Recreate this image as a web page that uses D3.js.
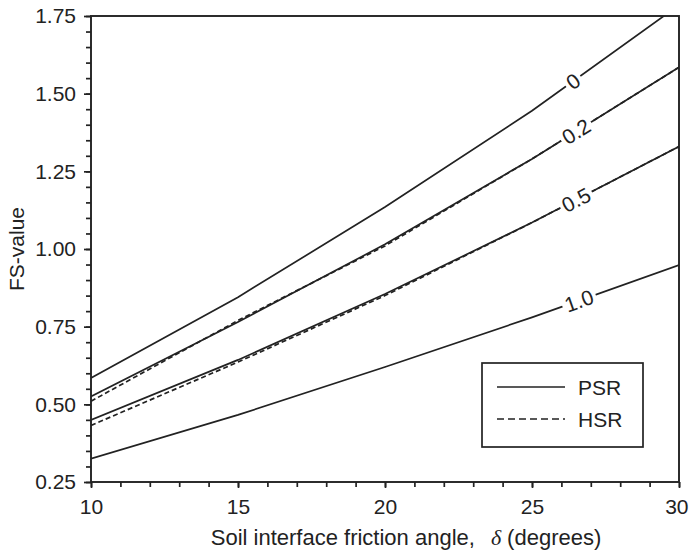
<!DOCTYPE html>
<html>
<head>
<meta charset="utf-8">
<script src="https://cdn.jsdelivr.net/npm/d3@7/dist/d3.min.js"></script>
<style>
  html, body { margin: 0; padding: 0; background: #fff; }
  svg { display: block; }
  text { font-family: "Liberation Sans", Arial, sans-serif; fill: #222; }
</style>
</head>
<body>
<svg id="chart" width="689" height="555"></svg>
<script>
// Friction angle (degrees) at which FS was evaluated
const angles = [10, 15, 20, 25, 30];

// PSR curves, one per parameter value
const psr0   = [0.585, 0.845, 1.135, 1.445, 1.785];
const psr02  = [0.525, 0.765, 1.015, 1.290, 1.585];
const psr05  = [0.450, 0.643, 0.855, 1.085, 1.330];
const psr10  = [0.325, 0.466, 0.620, 0.780, 0.948];

// HSR curves (dashed)
const hsr02  = [0.510, 0.770, 1.010, 1.290, 1.585];
const hsr05  = [0.432, 0.636, 0.850, 1.085, 1.330];

// In-line curve labels and the friction angle where each sits
const curveLabels = ["0", "0.2", "0.5", "1.0"];
const labelAngles = [26.4, 26.5, 26.5, 26.6];

const yTicks = [0.25, 0.50, 0.75, 1.00, 1.25, 1.50, 1.75];
const xTicks = [10, 15, 20, 25, 30];

const legendLabels = ["PSR", "HSR"];

const svg = d3.select("#chart");
const m = { left: 91, right: 679, top: 16, bottom: 482 };

const x = d3.scaleLinear().domain([10, 30]).range([m.left, m.right]);
const y = d3.scaleLinear().domain([0.25, 1.75]).range([m.bottom, m.top]);

const ink = "#222";
const sans = '"Liberation Sans", Arial, sans-serif';

svg.append("clipPath").attr("id", "plot-clip")
  .append("rect")
  .attr("x", m.left).attr("y", m.top)
  .attr("width", m.right - m.left).attr("height", m.bottom - m.top);

// Minor ticks
const minorY = d3.range(0.25, 1.7501, 0.05).map(v => +v.toFixed(2));
const minorX = d3.range(10, 30.01, 1);

const yMinor = svg.append("g").attr("transform", `translate(${m.left},0)`)
  .call(d3.axisLeft(y).tickValues(minorY).tickSize(5).tickFormat(""));
const xMinor = svg.append("g").attr("transform", `translate(0,${m.bottom})`)
  .call(d3.axisBottom(x).tickValues(minorX).tickSize(5).tickFormat(""));

// Major ticks with labels
const yAxis = svg.append("g").attr("transform", `translate(${m.left},0)`)
  .call(d3.axisLeft(y).tickValues(yTicks).tickSize(7).tickPadding(8)
    .tickFormat(d3.format(".2f")));
const xAxis = svg.append("g").attr("transform", `translate(0,${m.bottom})`)
  .call(d3.axisBottom(x).tickValues(xTicks).tickSize(6).tickPadding(11)
    .tickFormat(d3.format("d")));

[yMinor, xMinor, yAxis, xAxis].forEach(g => {
  g.select(".domain").remove();
  g.selectAll(".tick line").attr("stroke", ink).attr("stroke-width", 1.7);
});
[yAxis, xAxis].forEach(g => {
  g.selectAll(".tick text")
    .style("font-family", sans)
    .style("font-size", "21px").attr("fill", ink);
});
// keep the last x label inside the canvas edge
xAxis.selectAll(".tick text")
  .filter(d => d === 30)
  .attr("text-anchor", "end").attr("x", 688 - m.right);

// Plot frame
svg.append("rect")
  .attr("x", m.left).attr("y", m.top)
  .attr("width", m.right - m.left).attr("height", m.bottom - m.top)
  .attr("fill", "none").attr("stroke", ink).attr("stroke-width", 1.9);

// Curves
const line = d3.line().x((d, i) => x(angles[i])).y(d => y(d));
const plot = svg.append("g").attr("clip-path", "url(#plot-clip)");

const psrSeries = [psr0, psr02, psr05, psr10];
const hsrSeries = [hsr02, hsr05];

plot.selectAll("path.hsr").data(hsrSeries).join("path")
  .attr("class", "hsr")
  .attr("d", line)
  .attr("fill", "none").attr("stroke", ink).attr("stroke-width", 1.7)
  .attr("stroke-dasharray", "5,3");

plot.selectAll("path.psr").data(psrSeries).join("path")
  .attr("class", "psr")
  .attr("d", line)
  .attr("fill", "none").attr("stroke", ink).attr("stroke-width", 1.7);

// Labels sitting on the curves, rotated with the local slope
function valueAt(series, a) {
  for (let i = 0; i < angles.length - 1; i++) {
    if (a >= angles[i] && a <= angles[i + 1]) {
      const t = (a - angles[i]) / (angles[i + 1] - angles[i]);
      return { v: series[i] + t * (series[i + 1] - series[i]), i };
    }
  }
  return { v: series[series.length - 1], i: angles.length - 2 };
}

curveLabels.forEach((lab, k) => {
  const s = psrSeries[k];
  const a = labelAngles[k];
  const { v, i } = valueAt(s, a);
  const px = x(a), py = y(v);
  const dx = x(angles[i + 1]) - x(angles[i]);
  const dy = y(s[i + 1]) - y(s[i]);
  const rot = Math.atan2(dy, dx) * 180 / Math.PI;
  const g = svg.append("g").attr("transform", `translate(${px},${py}) rotate(${rot})`);
  const t = g.append("text")
    .attr("text-anchor", "middle").attr("dy", "0.36em")
    .style("font-size", "21px").text(lab);
  const w = t.node().getComputedTextLength();
  g.insert("rect", "text")
    .attr("x", -w / 2 - 3).attr("y", -9).attr("width", w + 6).attr("height", 18)
    .attr("fill", "#fff");
});

// Legend
const lg = svg.append("g");
lg.append("rect")
  .attr("x", 482).attr("y", 363).attr("width", 161).attr("height", 84)
  .attr("fill", "#fff").attr("stroke", ink).attr("stroke-width", 1.7);
legendLabels.forEach((lab, i) => {
  const yy = 387 + i * 32;
  lg.append("line")
    .attr("x1", 497).attr("x2", 565).attr("y1", yy).attr("y2", yy)
    .attr("stroke", ink).attr("stroke-width", 1.7)
    .attr("stroke-dasharray", i === 1 ? "7,4" : null);
  lg.append("text")
    .attr("x", 578).attr("y", yy).attr("dy", "0.36em")
    .style("font-size", "21px").text(lab);
});

// Axis titles
svg.append("text")
  .attr("transform", "translate(24,249) rotate(-90)")
  .attr("text-anchor", "middle")
  .style("font-size", "21px").text("FS-value");

const xt = svg.append("text")
  .attr("x", 406).attr("y", 545)
  .attr("text-anchor", "middle")
  .style("font-size", "22px");
xt.append("tspan").text("Soil interface friction angle,");
xt.append("tspan").attr("dx", 16)
  .style("font-family", '"Liberation Serif", "Times New Roman", serif')
  .style("font-style", "italic").text("δ");
xt.append("tspan").attr("dx", 6).text("(degrees)");
</script>
</body>
</html>
